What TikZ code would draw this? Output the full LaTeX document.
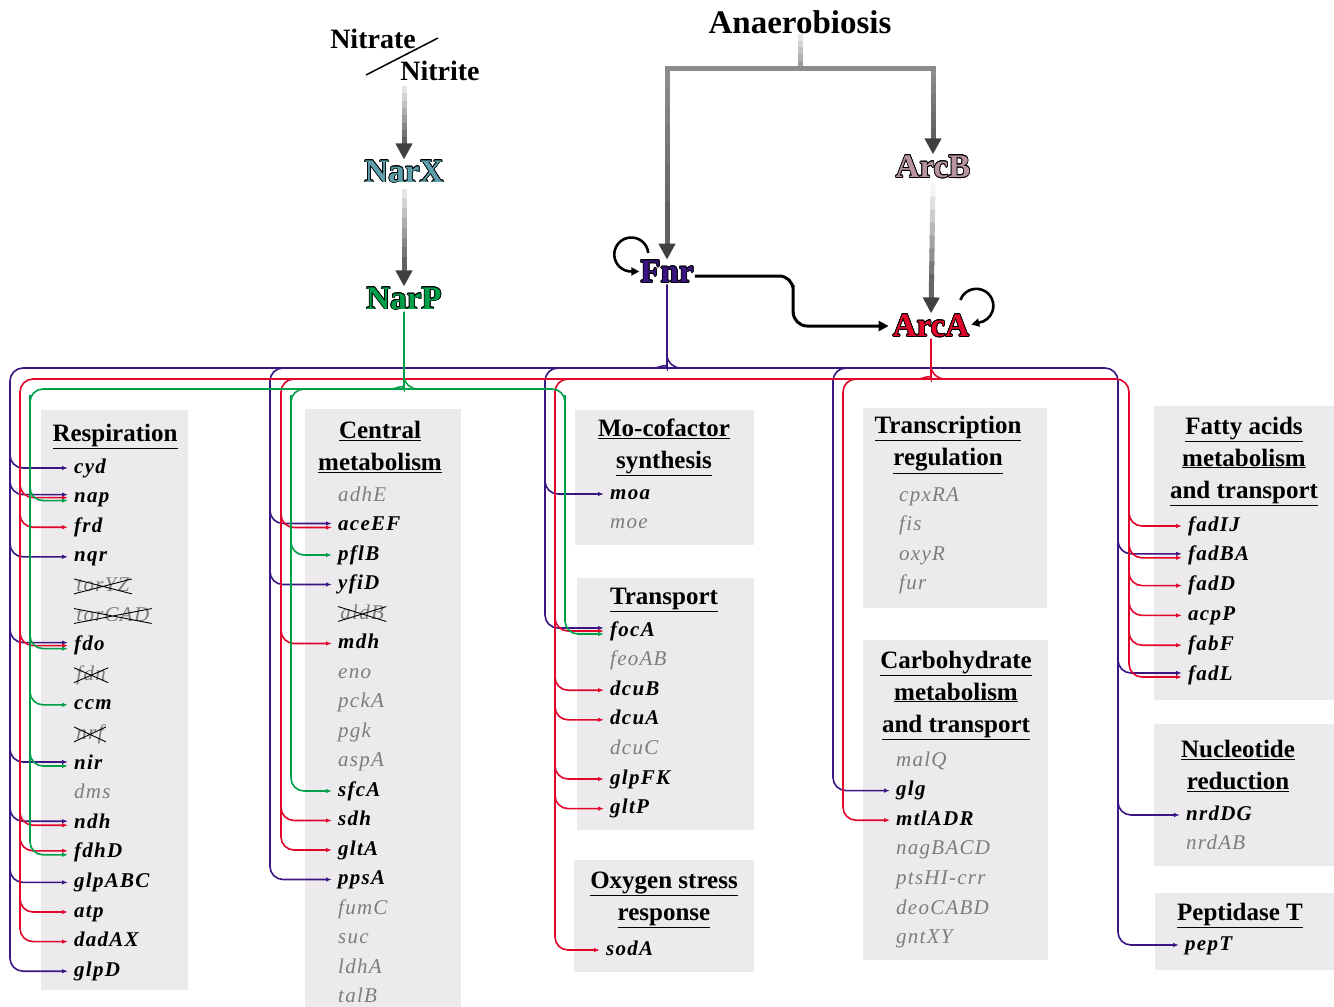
\documentclass[tikz,border=0pt]{standalone}
\usepackage{fontspec}
\setmainfont{Liberation Serif}
\newfontfamily\spacedfont[LetterSpace=6]{Liberation Serif}
\usepackage{contour}
\contourlength{0.7pt}
\usetikzlibrary{arrows.meta,calc,shapes.misc}

\definecolor{fnrcol}{HTML}{3B1582}
\definecolor{arcacol}{HTML}{E2062C}
\definecolor{narpcol}{HTML}{00A04B}
\definecolor{narxcol}{HTML}{5E9FAB}
\definecolor{arcbcol}{HTML}{B8949F}
\definecolor{panelgray}{HTML}{ECEAED}
\definecolor{mute}{HTML}{7D7D7D}

\tikzset{
  gene/.style={anchor=west,inner sep=0pt,text height=15pt,text depth=5pt,
    font=\spacedfont\fontsize{21}{24}\selectfont\bfseries\itshape},
  silent/.style={gene,text=mute,font=\spacedfont\fontsize{21}{24}\selectfont\itshape},
  gone/.style={silent,cross out,draw=black,line width=0.9pt,inner xsep=2pt,
    text height=12pt,text depth=2pt},
  panelhead/.style={align=center,inner sep=0pt,yshift=-3pt,font=\fontsize{25}{32}\selectfont\bfseries},
  regulator/.style={inner sep=1pt,font=\fontsize{33}{36}\selectfont\bfseries},
  cue/.style={inner sep=0pt,font=\fontsize{28}{30}\selectfont\bfseries},
  wire/.style={line width=1.6pt,rounded corners=13pt},
  branch/.style={wire,-{Latex[length=6pt,width=4.5pt]}},
  selfloop/.style={line width=2.6pt,-{Triangle[length=8pt,width=8pt]}},
}

% one column of genes: x, first y, row step, list name/style
\newcommand{\genelist}[4]{%
  \foreach \g/\k [count=\i from 0] in {#4}
    \node[\k] (\g) at (#1,{-#2-#3*\i}) {\g};}

% thick grey arrow that darkens towards its tip
\newcommand{\fadearrow}[4]{%
  \foreach \k in {0,...,6}{%
    \pgfmathtruncatemacro\tone{#3+(#4-#3)*\k/7}%
    \draw[line width=5pt,black!\tone] ($(#1)!{\k/10}!(#2)$) -- ($(#1)!{(\k+1.3)/10}!(#2)$);}%
  \draw[line width=5pt,black!#4,-{Triangle[length=16pt,width=16pt,color=black!75]}]
    ($(#1)!0.7!(#2)$) -- (#2);}

\begin{document}
\begin{tikzpicture}[x=1pt,y=1pt]
\useasboundingbox (0,0) rectangle (1334,-1007);

% panels
\fill[panelgray] (41,-410) rectangle (188,-990);
\fill[panelgray] (305,-409) rectangle (461,-1007);
\fill[panelgray] (575,-410) rectangle (754,-545);
\fill[panelgray] (577,-578) rectangle (754,-830);
\fill[panelgray] (574,-860) rectangle (754,-972);
\fill[panelgray] (863,-408) rectangle (1047,-608);
\fill[panelgray] (863,-640) rectangle (1048,-960);
\fill[panelgray] (1154,-406) rectangle (1334,-700);
\fill[panelgray] (1154,-724) rectangle (1334,-866);
\fill[panelgray] (1155,-893) rectangle (1334,-970);

% panel headings
\node[panelhead] (resp) at (115,-433) {\underline{Respiration}};
\node[panelhead] (central) at (380,-444) {\underline{Central}\\\underline{metabolism}};
\node[panelhead] (mocof) at (664,-444) {\underline{Mo-cofactor}\\\underline{synthesis}};
\node[panelhead] (transp) at (664,-597) {\underline{Transport}};
\node[panelhead] (oxy) at (664,-897) {\underline{Oxygen stress}\\\underline{response}};
\node[panelhead] (transc) at (948,-442) {\underline{Transcription}\\\underline{regulation}};
\node[panelhead] (carbo) at (956,-692) {\underline{Carbohydrate}\\\underline{metabolism}\\\underline{and transport}};
\node[panelhead] (fatty) at (1244,-458) {\underline{Fatty acids}\\\underline{metabolism}\\\underline{and transport}};
\node[panelhead] (nucl) at (1238,-763) {\underline{Nucleotide}\\\underline{reduction}};
\node[panelhead] (pept) at (1240,-912) {\underline{Peptidase T}};

% gene lists
\genelist{74}{468}{29.6}{cyd/gene,nap/gene,frd/gene,nqr/gene,torYZ/gone,torCAD/gone,
  fdo/gene,fdn/gone,ccm/gene,nrf/gone,nir/gene,dms/silent,ndh/gene,fdhD/gene,
  glpABC/gene,atp/gene,dadAX/gene,glpD/gene}
\genelist{338}{496}{29.5}{adhE/silent,aceEF/gene,pflB/gene,yfiD/gene,aldB/gone,mdh/gene,
  eno/silent,pckA/silent,pgk/silent,aspA/silent,sfcA/gene,sdh/gene,gltA/gene,
  ppsA/gene,fumC/silent,suc/silent,ldhA/silent,talB/silent}
\genelist{610}{494}{29.6}{moa/gene,moe/silent}
\genelist{610}{631}{29.6}{focA/gene,feoAB/silent,dcuB/gene,dcuA/gene,dcuC/silent,
  glpFK/gene,gltP/gene}
\genelist{606}{950}{29.6}{sodA/gene}
\genelist{899}{496}{29.6}{cpxRA/silent,fis/silent,oxyR/silent,fur/silent}
\genelist{896}{761}{29.6}{malQ/silent,glg/gene,mtlADR/gene,nagBACD/silent,
  ptsHI-crr/silent,deoCABD/silent,gntXY/silent}
\genelist{1188}{526}{29.8}{fadIJ/gene,fadBA/gene,fadD/gene,acpP/gene,fabF/gene,fadL/gene}
\genelist{1186}{815}{29.6}{nrdDG/gene,nrdAB/silent}
\genelist{1185}{945}{29.6}{pepT/gene}

% signals and regulators
\node[cue] (nitrate) at (373,-39) {Nitrate};
\node[cue] (nitrite) at (440,-71) {Nitrite};
\node[cue,font=\fontsize{33}{36}\selectfont\bfseries] (anaer) at (800,-22) {Anaerobiosis};
\node[regulator,text=narxcol] (narx) at (404,-172) {\contour{black}{NarX}};
\node[regulator,text=narpcol] (narp) at (404,-299) {\contour{black}{NarP}};
\node[regulator,text=fnrcol] (fnr) at (667,-272) {\contour{black}{Fnr}};
\node[regulator,text=arcbcol] (arcb) at (933,-167) {\contour{black}{ArcB}};
\node[regulator,text=arcacol] (arca) at (931,-326) {\contour{black}{ArcA}};

\draw[line width=1.5pt] (366,-75) -- (438,-38);
\coordinate (nitro) at (404,-86);
\fadearrow{nitro}{narx.north}{10}{62}
\fadearrow{[yshift=-4pt]narx.south}{narp.north}{10}{62}

\coordinate (fork) at (800,-68);
\coordinate (forkL) at (fork -| fnr);
\coordinate (forkR) at (fork -| arcb);
\foreach \k in {0,...,4}{%
  \pgfmathtruncatemacro\tone{10+7*\k}
  \draw[line width=5pt,black!\tone] ($(anaer.south)!{\k/5}!(fork)$) -- ($(anaer.south)!{(\k+1.2)/5}!(fork)$);}
\draw[line width=5pt,black!45,line cap=rect] (forkL) -- (forkR);
\fadearrow{forkL}{fnr.north}{45}{62}
\fadearrow{forkR}{arcb.north}{45}{62}
\fadearrow{[yshift=-4pt]arcb.south}{arca.north}{4}{60}

\draw[line width=3pt,rounded corners=14pt,-{Triangle[length=10pt,width=10pt]},shorten >=3pt]
  ([yshift=-4pt]fnr.east) -| ($(fnr.east)!0.5!(arca.west)$) |- (arca.west);
\draw[selfloop] ($(fnr.west)+(9,19)$) arc[start angle=5,end angle=270,radius=17] -- ++(8,0);
\draw[selfloop] ($(arca.east)+(-10,26)$) arc[start angle=160,end angle=-80,radius=17] -- ++(-8,-2);

% Fnr bus
\draw[wire,fnrcol] (fnr.south) -- (667,-355) to[out=-90,in=0] (653,-368);
\draw[wire,fnrcol] (667,-355) to[out=-90,in=180] (681,-368);
\draw[wire,fnrcol] (10,-400) |- (1118,-368) -- (1118,-400);
\foreach \x in {270,545,833}
  \draw[wire,fnrcol] (\x+20,-368) -| (\x,-400);
\coordinate (f1) at (10,-395);
\coordinate (f2) at (270,-395);
\coordinate (f3) at (545,-395);
\coordinate (f4) at (833,-395);
\coordinate (f5) at (1118,-395);
\foreach \c/\g/\o in {f1/cyd/0,f1/nap/3,f1/nqr/0,f1/fdo/3,f1/nir/2,f1/ndh/2,f1/glpABC/0,f1/glpD/0,
    f2/aceEF/2,f2/yfiD/0,f2/ppsA/0,f3/moa/0,f3/focA/3,f4/glg/0,
    f5/fadBA/2,f5/fadL/2,f5/nrdDG/0,f5/pepT/0}
  \draw[branch,fnrcol] (\c) |- ([shift={(-6,\o)}]\g.west);

% ArcA bus
\draw[wire,arcacol] (arca.south) -- (931,-366) to[out=-90,in=0] (917,-379);
\draw[wire,arcacol] (931,-366) to[out=-90,in=180] (945,-379);
\draw[wire,arcacol] (20,-400) |- (1129,-379) -- (1129,-400);
\foreach \x in {281,555,843}
  \draw[wire,arcacol] (\x+20,-379) -| (\x,-400);
\coordinate (a1) at (20,-395);
\coordinate (a2) at (281,-395);
\coordinate (a3) at (555,-395);
\coordinate (a4) at (843,-395);
\coordinate (a5) at (1129,-395);
\foreach \c/\g/\o in {a1/nap/0,a1/frd/0,a1/fdo/0,a1/ndh/-2,a1/fdhD/2,a1/atp/0,a1/dadAX/0,
    a2/aceEF/-2,a2/mdh/0,a2/sdh/0,a2/gltA/0,
    a3/focA/0,a3/dcuB/0,a3/dcuA/0,a3/glpFK/0,a3/gltP/0,a3/sodA/0,a4/mtlADR/0,
    a5/fadIJ/0,a5/fadBA/-2,a5/fadD/0,a5/acpP/0,a5/fabF/0,a5/fadL/-2}
  \draw[branch,arcacol] (\c) |- ([shift={(-6,\o)}]\g.west);

% NarP bus
\draw[wire,narpcol] (narp.south) -- (404,-376) to[out=-90,in=0] (390,-389);
\draw[wire,narpcol] (404,-376) to[out=-90,in=180] (418,-389);
\draw[wire,narpcol] (30,-400) |- (565,-389) -- (565,-400);
\draw[wire,narpcol] (311,-389) -| (291,-400);
\coordinate (n1) at (30,-395);
\coordinate (n2) at (291,-395);
\coordinate (n3) at (565,-395);
\foreach \c/\g/\o in {n1/nap/-3,n1/fdo/-3,n1/ccm/0,n1/nir/-2,n1/fdhD/-2,
    n2/pflB/0,n2/sfcA/0,n3/focA/-3}
  \draw[branch,narpcol] (\c) |- ([shift={(-6,\o)}]\g.west);

\end{tikzpicture}
\end{document}
